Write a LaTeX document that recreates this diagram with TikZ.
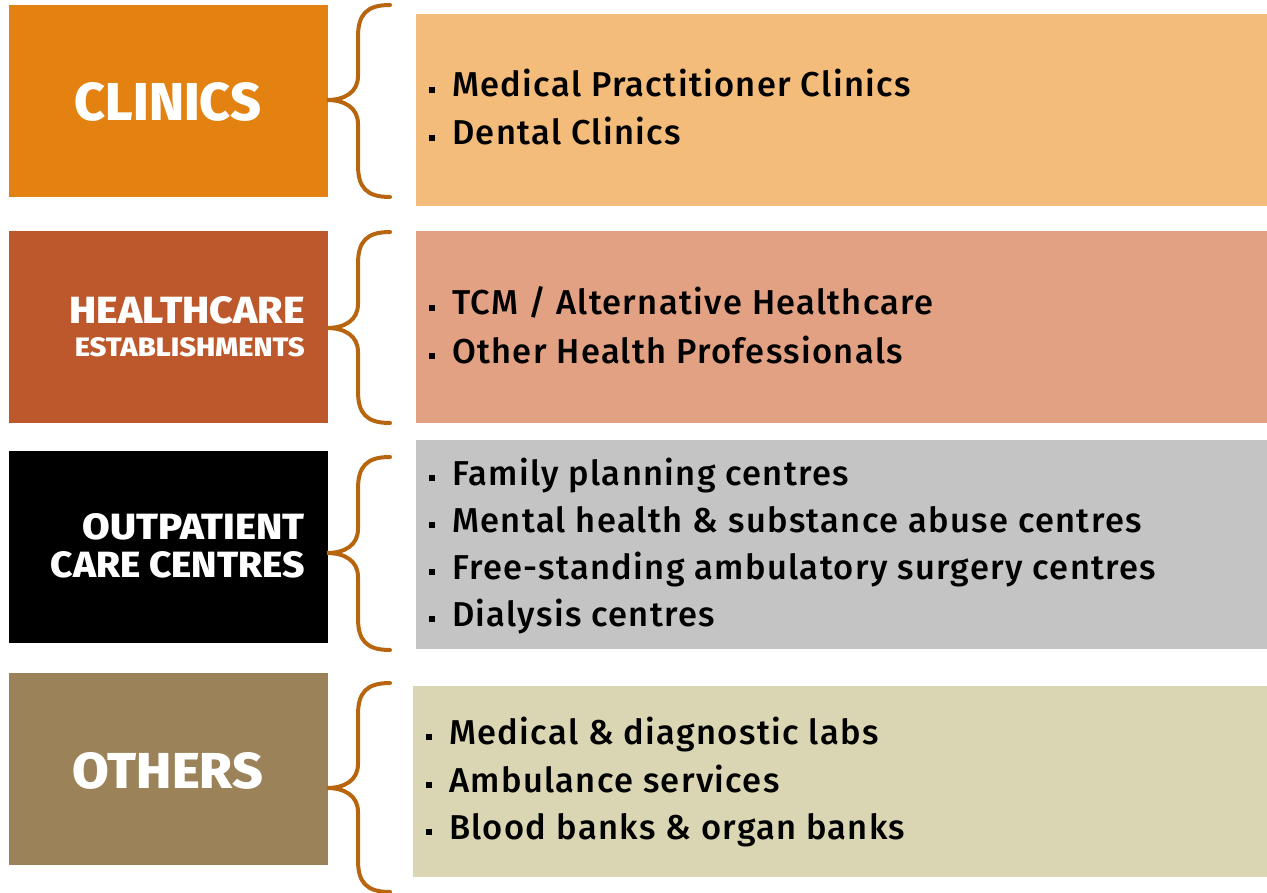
\documentclass[tikz,border=0pt]{standalone}
\usepackage{fontspec}
\setmainfont{Fira Sans}[UprightFont=* Medium, LetterSpace=3.8]
\newfontfamily\headfont{Fira Sans}[UprightFont=* ExtraBold]
\definecolor{cOrange}{HTML}{E38211}
\definecolor{cOrangeL}{HTML}{F3BC7B}
\definecolor{cRust}{HTML}{BC582C}
\definecolor{cRustL}{HTML}{E3A184}
\definecolor{cGrayL}{HTML}{C4C4C4}
\definecolor{cTan}{HTML}{9B8258}
\definecolor{cTanL}{HTML}{DAD6B3}
\definecolor{cBrace}{HTML}{B8650F}
\newcommand{\mybrace}[3]{% top, tip, bottom
  \draw[bracestyle] (390,#1) .. controls (366,#1) and (358,#1+10) .. (358,#1+32)
    -- (358,#2-24) .. controls (358,#2-8) and (345,#2) .. (327,#2)
    .. controls (345,#2) and (358,#2+8) .. (358,#2+24)
    -- (358,#3-32) .. controls (358,#3-10) and (366,#3) .. (390,#3);}
\newcommand{\bul}{\rule[4pt]{6pt}{6pt}\hspace{17pt}}
\tikzset{
  catbox/.style={draw=none, inner sep=0},
  listbox/.style={draw=none, inner sep=0},
  head/.style={inner sep=0, text=white, font=\headfont},
  item/.style={inner sep=0, anchor=base west, font=\fontsize{34.5}{40}\selectfont},
  bracestyle/.style={draw=cBrace, line width=4pt, line cap=round}
}
\begin{document}
\begin{tikzpicture}[x=1pt,y=-1pt]
\useasboundingbox (0,0) rectangle (1267,893);
% left category boxes
\path[fill=cOrange] (9,5) rectangle (328,197) node[midway, catbox] (lbox1) {};
\path[fill=cRust] (9,231) rectangle (328,423) node[midway, catbox] (lbox2) {};
\path[fill=black] (9,451) rectangle (328,643) node[midway, catbox] (lbox3) {};
\path[fill=cTan] (9,673) rectangle (328,865) node[midway, catbox] (lbox4) {};
% right list boxes
\path[fill=cOrangeL] (416,14) rectangle (1267,206) node[midway, listbox] (rbox1) {};
\path[fill=cRustL] (416,231) rectangle (1267,423) node[midway, listbox] (rbox2) {};
\path[fill=cGrayL] (416,440) rectangle (1267,649) node[midway, listbox] (rbox3) {};
\path[fill=cTanL] (413,686) rectangle (1267,877) node[midway, listbox] (rbox4) {};
% headings
\node[head, anchor=base] (h1) at (168,121) {\resizebox{186pt}{38pt}{CLINICS}};
\node[head, anchor=base east] (h2a) at (305,324) {\resizebox{235pt}{27pt}{HEALTHCARE}};
\node[head, anchor=base east] (h2b) at (305,356) {\resizebox{230pt}{19pt}{ESTABLISHMENTS}};
\node[head, anchor=base east] (h3a) at (305,539) {\resizebox{222pt}{26pt}{OUTPATIENT}};
\node[head, anchor=base east] (h3b) at (305,577) {\resizebox{254pt}{26pt}{CARE CENTRES}};
\node[head, anchor=base] (h4) at (168,788) {\resizebox{190pt}{36pt}{OTHERS}};
% braces
\mybrace{5}{100}{197}
\mybrace{232}{328}{423}
\mybrace{457}{553}{650}
\mybrace{683}{788}{892}
% list items
\node[item] (i1a) at (429,97) {\bul Medical Practitioner Clinics};
\node[item] (i1b) at (429,145) {\bul Dental Clinics};
\node[item] (i2a) at (429,315) {\bul TCM / Alternative Healthcare};
\node[item] (i2b) at (429,363) {\bul Other Health Professionals};
\node[item] (i3a) at (429,485) {\bul Family planning centres};
\node[item] (i3b) at (429,532) {\bul Mental health \& substance abuse centres};
\node[item] (i3c) at (429,579) {\bul Free-standing ambulatory surgery centres};
\node[item] (i3d) at (429,626) {\bul Dialysis centres};
\node[item] (i4a) at (426,744) {\bul Medical \& diagnostic labs};
\node[item] (i4b) at (426,792) {\bul Ambulance services};
\node[item] (i4c) at (426,839) {\bul Blood banks \& organ banks};
\end{tikzpicture}
\end{document}
